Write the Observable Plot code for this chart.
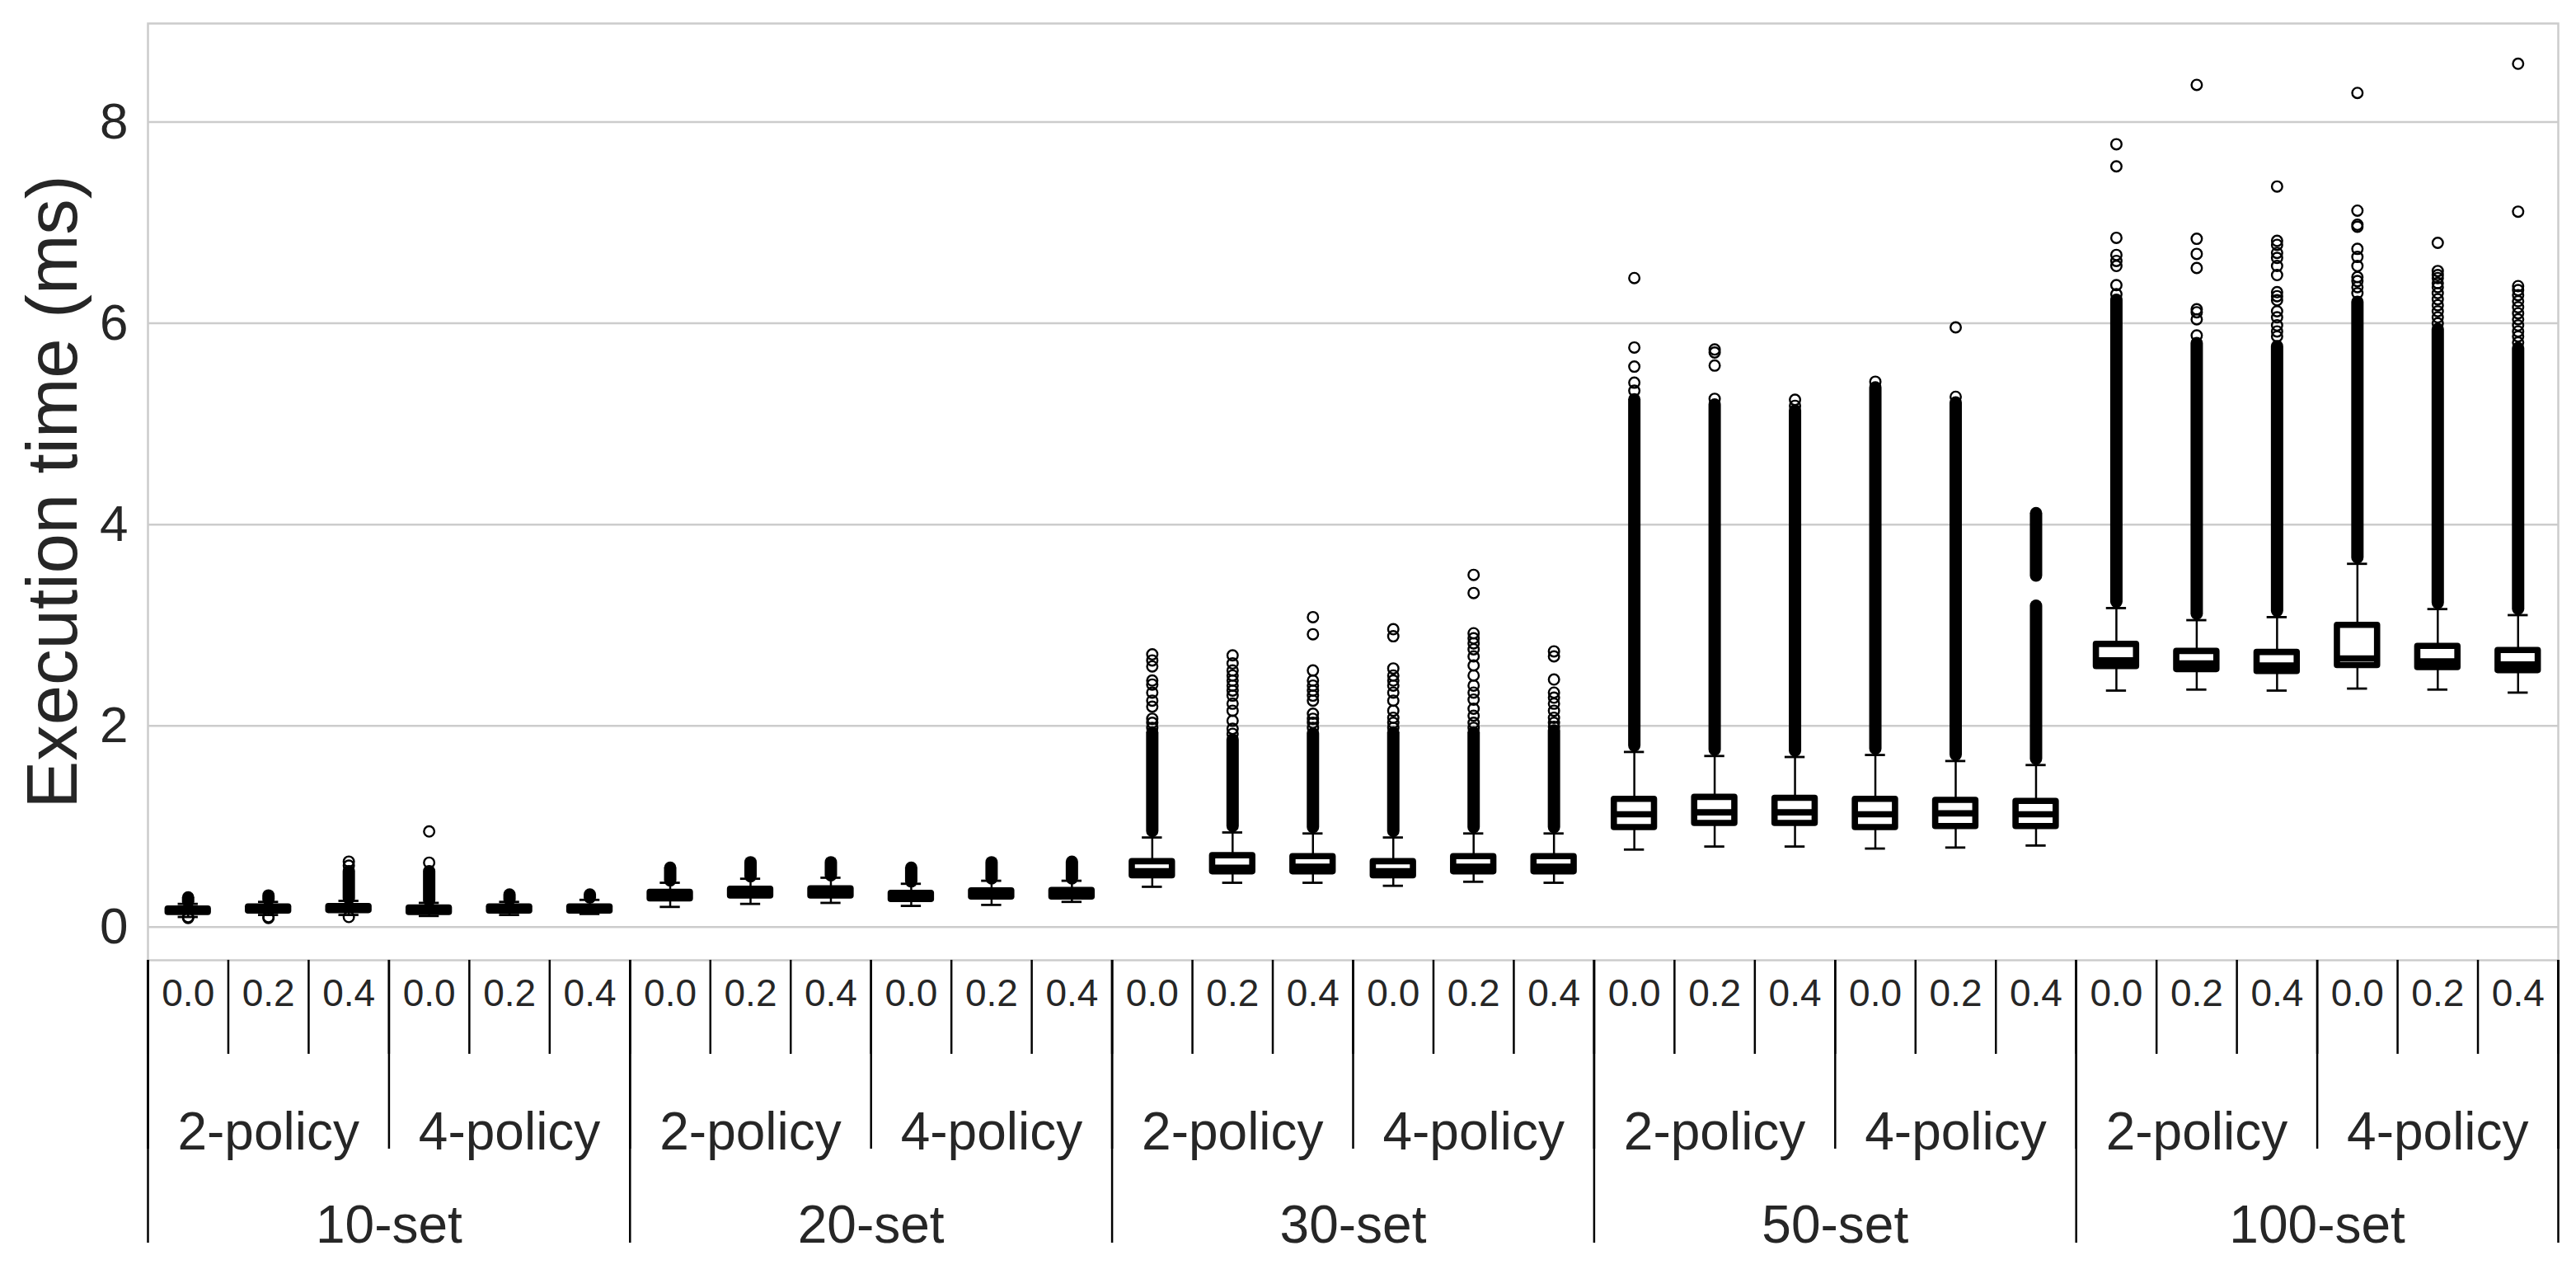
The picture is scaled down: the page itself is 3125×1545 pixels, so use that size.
<!DOCTYPE html>
<html>
<head>
<meta charset="utf-8">
<script src="https://cdn.jsdelivr.net/npm/d3@7"></script>
<script src="https://cdn.jsdelivr.net/npm/@observablehq/plot@0.6"></script>
<style>
  html, body { margin: 0; padding: 0; background: #fff; }
</style>
</head>
<body>
<div id="chart"></div>
<script>
// ---- categories ----
const sets = ["10-set", "20-set", "30-set", "50-set", "100-set"];
const policies = ["2-policy", "4-policy"];
const ratios = ["0.0", "0.2", "0.4"];
const yTicks = [0, 2, 4, 6, 8];
const yLabel = "Execution time (ms)";

// ---- box statistics (30 boxes: set × policy × ratio) ----
const whiskerLow = [0.10, 0.12, 0.12, 0.11, 0.12, 0.13,
                    0.20, 0.23, 0.24, 0.21, 0.22, 0.25,
                    0.40, 0.44, 0.44, 0.41, 0.45, 0.44,
                    0.77, 0.80, 0.80, 0.78, 0.79, 0.81,
                    2.35, 2.36, 2.35, 2.37, 2.36, 2.33];
const q1 = [0.145, 0.16, 0.165, 0.145, 0.16, 0.16,
            0.28, 0.31, 0.31, 0.275, 0.30, 0.30,
            0.51, 0.55, 0.55, 0.51, 0.55, 0.55,
            0.99, 1.03, 1.03, 0.99, 1.00, 1.00,
            2.59, 2.56, 2.54, 2.60, 2.58, 2.55];
const median = [0.16, 0.18, 0.185, 0.165, 0.18, 0.18,
                0.31, 0.34, 0.345, 0.30, 0.33, 0.33,
                0.555, 0.59, 0.60, 0.555, 0.60, 0.60,
                1.12, 1.14, 1.14, 1.12, 1.13, 1.12,
                2.65, 2.62, 2.60, 2.67, 2.64, 2.61];
const q3 = [0.18, 0.20, 0.205, 0.19, 0.20, 0.20,
            0.345, 0.377, 0.38, 0.335, 0.36, 0.365,
            0.65, 0.71, 0.70, 0.65, 0.70, 0.70,
            1.27, 1.29, 1.28, 1.27, 1.26, 1.25,
            2.81, 2.74, 2.73, 3.00, 2.79, 2.75];
const whiskerHigh = [0.23, 0.25, 0.26, 0.24, 0.25, 0.27,
                     0.44, 0.48, 0.49, 0.43, 0.46, 0.46,
                     0.89, 0.94, 0.93, 0.89, 0.93, 0.93,
                     1.74, 1.70, 1.69, 1.71, 1.65, 1.61,
                     3.17, 3.05, 3.08, 3.61, 3.16, 3.10];

// ---- dense runs of overlapping outliers: [low, high] per box ----
const denseRuns = [
  [[0.25, 0.29]], [[0.27, 0.31]], [[0.28, 0.55]], [[0.26, 0.55]], [[0.27, 0.32]], [[0.29, 0.32]],
  [[0.46, 0.585]], [[0.50, 0.64]], [[0.51, 0.64]], [[0.45, 0.585]], [[0.48, 0.64]], [[0.48, 0.645]],
  [[0.95, 1.93]], [[1.00, 1.86]], [[0.99, 1.92]], [[0.95, 1.93]], [[0.99, 1.93]], [[0.99, 1.95]],
  [[1.80, 5.24]], [[1.76, 5.19]], [[1.75, 5.13]], [[1.77, 5.36]], [[1.71, 5.21]], [[1.67, 3.19], [3.49, 4.11]],
  [[3.23, 6.23]], [[3.11, 5.80]], [[3.14, 5.77]], [[3.67, 6.21]], [[3.22, 5.94]], [[3.16, 5.75]]
];

// ---- individual (separable) outliers per box ----
const outliers = [
  [0.09, 0.10], [0.09, 0.10], [0.10, 0.61, 0.65], [0.64, 0.95], [], [],
  [], [], [], [], [], [],
  [2.71, 2.65, 2.59, 2.45, 2.41, 2.33, 2.25, 2.19, 2.07, 2.03, 1.98],
  [2.70, 2.62, 2.55, 2.50, 2.45, 2.40, 2.35, 2.30, 2.22, 2.15, 2.05, 1.97, 1.92],
  [3.08, 2.91, 2.55, 2.45, 2.40, 2.35, 2.30, 2.25, 2.12, 2.07, 2.03, 1.98],
  [2.96, 2.89, 2.57, 2.50, 2.45, 2.40, 2.33, 2.25, 2.15, 2.08, 2.03, 1.98],
  [3.50, 3.32, 2.92, 2.87, 2.82, 2.76, 2.69, 2.60, 2.50, 2.40, 2.33, 2.26, 2.17, 2.10, 2.03, 1.98],
  [2.74, 2.69, 2.46, 2.33, 2.28, 2.22, 2.15, 2.08, 2.03, 1.99],
  [6.45, 5.76, 5.57, 5.41, 5.33],
  [5.74, 5.71, 5.58, 5.25],
  [5.24, 5.18],
  [5.42],
  [5.96, 5.27],
  [],
  [7.78, 7.56, 6.85, 6.68, 6.62, 6.57, 6.38, 6.29],
  [8.37, 6.84, 6.69, 6.55, 6.14, 6.11, 6.04, 5.88],
  [7.36, 6.82, 6.78, 6.70, 6.65, 6.57, 6.48, 6.31, 6.27, 6.23, 6.12, 6.06, 5.98, 5.92, 5.87],
  [8.29, 7.12, 6.98, 6.96, 6.74, 6.66, 6.57, 6.46, 6.42, 6.36, 6.30],
  [6.80, 6.52, 6.48, 6.45, 6.40, 6.36, 6.30, 6.24, 6.18, 6.12, 6.06, 6.00],
  [8.58, 7.11, 6.37, 6.33, 6.28, 6.22, 6.16, 6.10, 6.04, 5.98, 5.92, 5.87, 5.81]
];

// ---- build tables ----
const nPer = ratios.length;               // 3 boxes per policy
const nSet = nPer * policies.length;      // 6 boxes per set
const N = sets.length * nSet;             // 30 boxes
const boxes = d3.range(N).map(i => ({
  i,
  set: sets[Math.floor(i / nSet)],
  policy: policies[Math.floor(i / nPer) % policies.length],
  ratio: ratios[i % nPer],
  lo: whiskerLow[i], q1: q1[i], med: median[i], q3: q3[i], hi: whiskerHigh[i]
}));
const dense = boxes.flatMap(b => denseRuns[b.i].map(([a, c]) => ({i: b.i, a, c})));
const fliers = boxes.flatMap(b => outliers[b.i].map(v => ({i: b.i, v})));
const policyLabels = d3.range(N / nPer).map(k => ({x: k * nPer + (nPer - 1) / 2, label: policies[k % policies.length]}));
const setLabels = sets.map((s, k) => ({x: k * nSet + (nSet - 1) / 2, label: s}));
const allBounds = d3.range(N + 1).map(k => k - 0.5);
const policyBounds = allBounds.filter((b, k) => k % nPer === 0);
const setBounds = allBounds.filter((b, k) => k % nSet === 0);

const half = 0.25, capHalf = 0.125;
const ink = "#000", txt = "#262626", grid = "#cccccc";

const chart = Plot.plot({
  width: 3125,
  height: 1545,
  marginLeft: 179,
  marginRight: 22,
  marginTop: 28,
  marginBottom: 381,
  style: {fontFamily: "'Liberation Sans', Arial, sans-serif", color: txt, background: "#fff"},
  x: {domain: [-0.5, N - 0.5], axis: null},
  y: {domain: [-0.33, 8.98], axis: null},
  marks: [
    Plot.gridY(yTicks, {stroke: grid, strokeOpacity: 1, strokeWidth: 2.5}),
    Plot.frame({stroke: grid, strokeWidth: 2.5}),
    Plot.axisY(yTicks, {tickSize: 0, tickPadding: 24, fontSize: 62, fill: txt, label: null, tickFormat: d3.format("d")}),
    Plot.text([yLabel], {frameAnchor: "left", textAnchor: "middle", lineAnchor: "middle", rotate: -90, dx: -114, fontSize: 87, fill: txt}),
    // x-axis dividers
    Plot.axisX({ticks: allBounds, tickSize: 114, tickFormat: () => "", stroke: ink, strokeWidth: 2.5, label: null}),
    Plot.axisX({ticks: policyBounds, tickSize: 229, tickFormat: () => "", stroke: ink, strokeWidth: 2.5, label: null}),
    Plot.axisX({ticks: setBounds, tickSize: 343, tickFormat: () => "", stroke: ink, strokeWidth: 2.5, label: null}),
    // hierarchical labels
    Plot.text(boxes, {x: "i", text: "ratio", frameAnchor: "bottom", lineAnchor: "middle", dy: 41, fontSize: 46, fill: txt}),
    Plot.text(policyLabels, {x: "x", text: "label", frameAnchor: "bottom", lineAnchor: "middle", dy: 209, fontSize: 64, fill: txt}),
    Plot.text(setLabels, {x: "x", text: "label", frameAnchor: "bottom", lineAnchor: "middle", dy: 322, fontSize: 64, fill: txt}),
    // dense outlier columns
    Plot.ruleX(dense, {x: "i", y1: "a", y2: "c", stroke: ink, strokeWidth: 15, strokeLinecap: "round"}),
    // whiskers
    Plot.ruleX(boxes, {x: "i", y1: "q3", y2: "hi", stroke: ink, strokeWidth: 2.5}),
    Plot.ruleX(boxes, {x: "i", y1: "lo", y2: "q1", stroke: ink, strokeWidth: 2.5}),
    Plot.ruleY(boxes, {y: "hi", x1: d => d.i - capHalf, x2: d => d.i + capHalf, stroke: ink, strokeWidth: 2.8}),
    Plot.ruleY(boxes, {y: "lo", x1: d => d.i - capHalf, x2: d => d.i + capHalf, stroke: ink, strokeWidth: 2.8}),
    // boxes
    Plot.rect(boxes, {x1: d => d.i - half, x2: d => d.i + half, y1: "q1", y2: "q3", fill: "none", stroke: ink, strokeWidth: 7.6, strokeLinejoin: "round"}),
    Plot.ruleY(boxes, {y: "med", x1: d => d.i - half, x2: d => d.i + half, stroke: ink, strokeWidth: 7.6}),
    // outliers
    Plot.dot(fliers, {x: "i", y: "v", r: 6.3, fill: "none", stroke: ink, strokeWidth: 2.4})
  ]
});
document.getElementById("chart").appendChild(chart);
</script>
</body>
</html>
